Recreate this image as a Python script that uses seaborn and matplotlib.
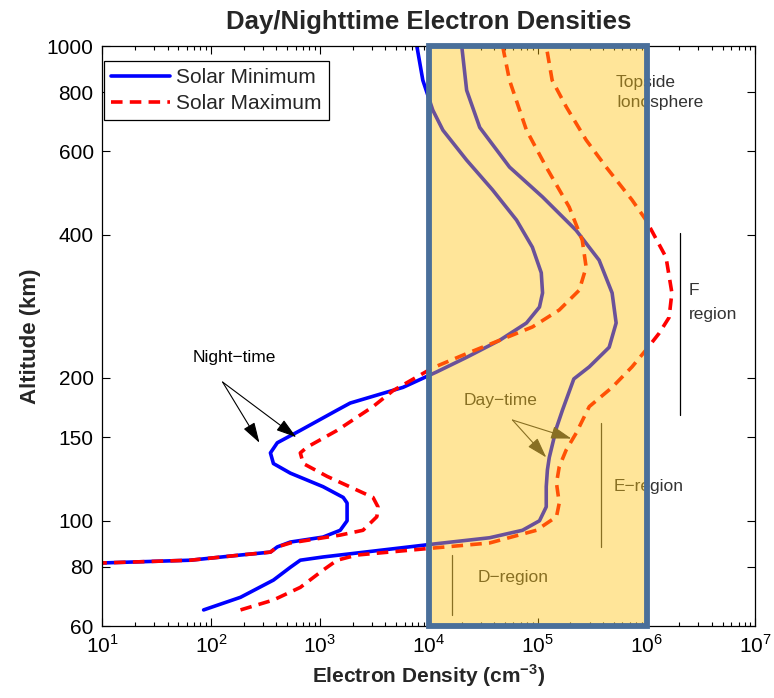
import matplotlib
matplotlib.use("Agg")
import matplotlib.pyplot as plt
import seaborn as sns
import pandas as pd
from matplotlib.patches import Rectangle
from matplotlib.lines import Line2D

# ---- data (electron density cm^-3, altitude km) ----
min_night_ne = [7780, 8830, 10900, 13500, 22300, 38500, 64000, 89500, 1.08e5, 1.11e5, 1.04e5, 79000,
                44800, 22300, 11900, 5800, 1900, 1440, 662, 407, 352, 375, 536, 1070, 1640, 1780,
                1780, 1540, 1070, 536, 407, 352, 187, 65, 10]
min_night_alt = [1000, 847, 733, 665, 575, 498, 430, 377, 333, 302, 282, 261, 240, 221, 206, 191,
                 177, 171, 155, 146, 139, 132, 126, 118, 112, 109, 100, 95.5, 92.4, 90.2, 88.1,
                 85.9, 84.7, 82.6, 81.5]

min_day_ne = [85.7, 187, 375, 536, 662, 1070, 10900, 36200, 72600, 1.04e5, 1.2e5, 1.2e5, 1.23e5,
              1.28e5, 1.49e5, 1.69e5, 2.15e5, 2.98e5, 4.54e5, 5.26e5, 4.83e5, 3.67e5, 2.26e5,
              1.11e5, 55200, 29400, 22300, 20100]
min_day_alt = [64.9, 69.0, 75.0, 79.8, 82.6, 83.9, 89.3, 92.1, 95.5, 100, 107, 118, 128, 136, 157,
               171, 199, 211, 232, 261, 302, 354, 409, 481, 556, 674, 807, 1000]

max_night_ne = [47700, 55200, 79000, 1.2e5, 1.95e5, 2.57e5, 2.79e5, 2.41e5, 1.58e5, 89500, 44800,
                22300, 10900, 4700, 3080, 1440, 767, 662, 705, 1170, 3080, 3420, 3340, 2490, 1540,
                536, 407, 352, 187, 65, 10]
max_night_alt = [1000, 847, 665, 556, 458, 390, 342, 306, 278, 256, 240, 225, 210, 188, 174, 155,
                 143, 139, 132, 124, 112, 107, 102, 95.5, 93.3, 89.8, 88.1, 85.9, 84.7, 82.6, 81.5]

max_day_ne = [187, 375, 662, 1070, 1440, 2200, 10900, 36200, 97500, 1.49e5, 1.58e5, 1.49e5, 1.58e5,
              1.83e5, 2.26e5, 2.98e5, 4.83e5, 7.36e5, 9.89e5, 1.30e6, 1.61e6, 1.71e6, 1.51e6,
              9.89e5, 7.36e5, 4.26e5, 2.79e5, 1.83e5, 1.36e5, 1.2e5]
max_day_alt = [64.9, 68.1, 72.4, 78.7, 82.6, 84.7, 87.6, 89.8, 95.5, 102, 109, 120, 130, 141, 153,
               174, 191, 211, 229, 248, 268, 302, 359, 430, 474, 556, 634, 745, 847, 1000]

y_ticks = [60, 80, 100, 150, 200, 400, 600, 800, 1000]
legend_labels = ["Solar Minimum", "Solar Maximum"]

# ---- style ----
sns.set_theme(style="ticks")
plt.rcParams['font.family'] = ['Liberation Sans', 'DejaVu Sans']
plt.rcParams['mathtext.fontset'] = 'custom'
plt.rcParams['mathtext.rm'] = 'Liberation Sans'
plt.rcParams['mathtext.bf'] = 'Liberation Sans:bold'

fig = plt.figure(figsize=(7.74, 6.98), dpi=100)
ax = fig.add_axes([0.1318, 0.103, 0.8442, 0.831])

blue = "#0000ff"
red = "#ff0000"
lw = 2.6
dash = (0, (3.2, 2.0))

def draw(xs, ys, color, dashed):
    df = pd.DataFrame({"ne": xs, "alt": ys})
    sns.lineplot(data=df, x="ne", y="alt", sort=False, estimator=None, ax=ax,
                 color=color, linewidth=lw, zorder=2,
                 linestyle=dash if dashed else "-")

draw(min_night_ne, min_night_alt, blue, False)
draw(min_day_ne, min_day_alt, blue, False)
draw(max_night_ne, max_night_alt, red, True)
draw(max_day_ne, max_day_alt, red, True)
for l in ax.lines:
    l.set_solid_joinstyle("round")
    l.set_solid_capstyle("round")

ax.set_xscale("log")
ax.set_yscale("log")
ax.set_xlim(10, 1e7)
ax.set_ylim(60, 1000)
ax.set_yticks(y_ticks)
ax.set_yticklabels([str(t) for t in y_ticks])
ax.yaxis.set_minor_locator(matplotlib.ticker.NullLocator())
ax.set_xticks([10**k for k in range(1, 8)])
ax.set_xticklabels([r"$10^{%d}$" % k for k in range(1, 8)])

ax.tick_params(axis="both", which="both", direction="in", top=True, right=True,
               labelsize=15, colors="black", width=0.8)
ax.tick_params(axis="both", which="major", length=6, pad=6)
ax.tick_params(axis="x", which="minor", length=3)
for s in ax.spines.values():
    s.set_color("black")
    s.set_linewidth(0.9)

ax.set_xlabel(r"Electron Density (cm$^{\mathbf{-3}}$)", fontsize=15, fontweight="bold", labelpad=4)
ax.set_ylabel("Altitude (km)", fontsize=16, fontweight="bold", labelpad=4)
ax.set_title("Day/Nighttime Electron Densities", fontsize=18.5, fontweight="bold", pad=12)

txt = "#333333"
# region labels and bars (drawn beneath the overlay)
ax.text(5.25e5, 836, "Topside", fontsize=12.5, color=txt, va="center", ha="left", zorder=2.5)
ax.text(5.25e5, 759, "Ionosphere", fontsize=12.5, color=txt, va="center", ha="left", zorder=2.5)
ax.text(2.45e6, 306, "F", fontsize=12.5, color=txt, va="center", ha="left", zorder=2.5)
ax.text(2.45e6, 272, "region", fontsize=12.5, color=txt, va="center", ha="left", zorder=2.5)
ax.plot([2.02e6, 2.02e6], [167, 404], color="black", lw=0.9, zorder=2.5)
ax.text(4.94e5, 118, "E\u2212region", fontsize=12.5, color=txt, va="center", ha="left", zorder=2.5)
ax.plot([3.84e5, 3.84e5], [88, 161], color=txt, lw=0.9, zorder=2.5)
ax.text(2.81e4, 76, "D\u2212region", fontsize=12.5, color=txt, va="center", ha="left", zorder=2.5)
ax.plot([1.63e4, 1.63e4], [63.3, 84.7], color=txt, lw=0.9, zorder=2.5)

# annotations
ax.text(163, 221, "Night\u2212time", fontsize=12.5, color="black", ha="center", va="center", zorder=2.5)
for hx, hy in [(279, 146), (608, 150)]:
    ax.annotate("", xy=(hx, hy), xytext=(128, 196),
                arrowprops=dict(arrowstyle="-|>,head_length=0.9,head_width=0.28", color="black",
                                lw=0.8, shrinkA=0, shrinkB=0, mutation_scale=14), zorder=2.5)
ax.text(45700, 179, "Day\u2212time", fontsize=12.5, color=txt, ha="center", va="center", zorder=2.5)
for hx, hy in [(2.04e5, 149), (1.2e5, 136)]:
    ax.annotate("", xy=(hx, hy), xytext=(58800, 163),
                arrowprops=dict(arrowstyle="-|>,head_length=0.9,head_width=0.28", color=txt,
                                lw=0.8, shrinkA=0, shrinkB=0, mutation_scale=14), zorder=2.5)

# translucent highlight box
ax.add_patch(Rectangle((1e4, 60), 1e6 - 1e4, 1000 - 60, facecolor=(1.0, 0.765, 0.05, 0.42),
                       edgecolor="none", zorder=3, clip_on=False))
ax.add_patch(Rectangle((1e4, 60), 1e6 - 1e4, 1000 - 60, facecolor="none",
                       edgecolor="#4a6f9a", linewidth=4.2, zorder=4, clip_on=False))

handles = [Line2D([], [], color=blue, lw=lw),
           Line2D([], [], color=red, lw=lw, linestyle=dash)]
leg = ax.legend(handles, legend_labels, loc="upper left", fontsize=15, frameon=True,
                fancybox=False, edgecolor="black", framealpha=1, borderpad=0.35,
                handlelength=2.8, handletextpad=0.3, labelspacing=0.35,
                bbox_to_anchor=(0.003, 0.975), borderaxespad=0)
leg.get_frame().set_linewidth(0.9)
leg.set_zorder(6)

fig.savefig("out.png", dpi=100)
